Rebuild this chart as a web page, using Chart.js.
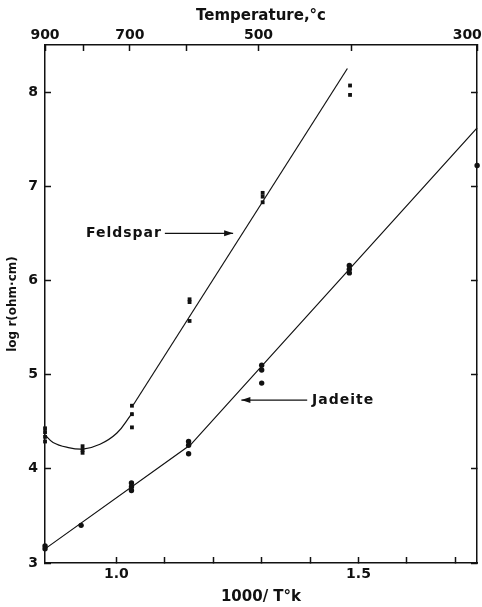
<!DOCTYPE html>
<html>
<head>
<meta charset="utf-8">
<script src="https://cdn.jsdelivr.net/npm/chart.js@4/dist/chart.umd.min.js"></script>
<style>
  html, body { margin: 0; padding: 0; background: #fff; }
</style>
</head>
<body>
<canvas id="resistChart" width="482" height="607"></canvas>
<script>
// 1000/T (K) range: 900 C to 300 C
const xMin = 1000 / (900 + 273.15);
const xMax = 1000 / (300 + 273.15);

const feldsparX = [0.8525, 0.8525, 0.8525, 0.8525, 0.930, 0.930, 0.930, 1.032, 1.032, 1.032, 1.151, 1.151, 1.151, 1.302, 1.302, 1.302, 1.4825, 1.4825];
const feldsparY = [4.43, 4.39, 4.34, 4.29, 4.24, 4.20, 4.17, 4.67, 4.58, 4.44, 5.80, 5.77, 5.57, 6.93, 6.89, 6.83, 8.07, 7.97];
const jadeiteX = [0.8525, 0.8525, 0.927, 1.031, 1.031, 1.031, 1.149, 1.149, 1.149, 1.300, 1.300, 1.300, 1.481, 1.481, 1.481, 1.745];
const jadeiteY = [3.18, 3.15, 3.40, 3.85, 3.81, 3.77, 4.29, 4.25, 4.16, 5.10, 5.05, 4.91, 6.16, 6.12, 6.08, 7.22];

// drawn fit lines
const feldsparCurveX = [0.8525, 0.869, 0.897, 0.931, 0.966, 1.001, 1.028, 1.033];
const feldsparCurveY = [4.36, 4.28, 4.23, 4.21, 4.26, 4.38, 4.56, 4.60];
const feldsparLineX = [1.035, 1.477];
const feldsparLineY = [4.68, 8.25];
const jadeiteLineX = [0.8525, 1.153, 1.745];
const jadeiteLineY = [3.15, 4.255, 7.62];

// ticks
const xTicks = [1.0, 1.1, 1.2, 1.3, 1.4, 1.5, 1.6, 1.7];
const xLabels = { '1.0': '1.0', '1.5': '1.5' };
const tempTicks = [900, 800, 700, 600, 500, 400, 300];
const tempLabels = { 900: '900', 700: '700', 500: '500', 300: '300    ' }; // last one padded so it stays inside the canvas
const yTicks = [3, 4, 5, 6, 7, 8];

const pts = (xs, ys) => xs.map((x, i) => ({ x: x, y: ys[i] }));

const tickFont = { family: 'DejaVu Sans', weight: 'bold', size: 14 };
const ink = '#111';

// arrow labels: text, text anchor, arrow from -> to (data coords)
const callouts = [
  { text: 'Feldspar', align: 'right', tx: 1.094, y: 6.50, from: 1.100, to: 1.241 },
  { text: 'Jadeite', align: 'left', tx: 1.404, y: 4.73, from: 1.394, to: 1.258 }
];

const calloutPlugin = {
  id: 'callouts',
  afterDatasetsDraw(chart) {
    const ctx = chart.ctx;
    const xs = chart.scales.x, ys = chart.scales.y;
    ctx.save();
    ctx.fillStyle = ink;
    ctx.strokeStyle = ink;
    ctx.lineWidth = 1.2;
    ctx.font = 'bold 14px "DejaVu Sans"';
    ctx.letterSpacing = '1px';
    callouts.forEach(c => {
      const y = ys.getPixelForValue(c.y);
      const x1 = xs.getPixelForValue(c.from);
      const x2 = xs.getPixelForValue(c.to);
      ctx.beginPath();
      ctx.moveTo(x1, y);
      ctx.lineTo(x2, y);
      ctx.stroke();
      const dir = x2 > x1 ? -1 : 1;
      ctx.beginPath();
      ctx.moveTo(x2, y);
      ctx.lineTo(x2 + dir * 9, y - 3);
      ctx.lineTo(x2 + dir * 9, y + 3);
      ctx.closePath();
      ctx.fill();
      ctx.textAlign = c.align;
      ctx.textBaseline = 'middle';
      ctx.fillText(c.text, xs.getPixelForValue(c.tx), y);
    });
    ctx.restore();
  }
};

const scatterSet = (data, style) => ({
  data: data,
  showLine: false,
  pointStyle: style,
  pointRadius: 2.7,
  backgroundColor: ink,
  borderColor: ink,
  borderWidth: 0,
  clip: false
});

const lineSet = (data, tension) => ({
  data: data,
  showLine: true,
  tension: tension,
  pointRadius: 0,
  borderColor: ink,
  borderWidth: 1.2,
  fill: false,
  clip: false
});

const axisGrid = { drawOnChartArea: false, tickLength: -6, tickColor: ink, tickWidth: 1.5 };
const axisBorder = { display: true, color: ink, width: 1.5 };
const noSidePad = s => { s.paddingLeft = 0; s.paddingRight = 0; };

new Chart(document.getElementById('resistChart').getContext('2d'), {
  type: 'scatter',
  data: {
    datasets: [
      scatterSet(pts(feldsparX, feldsparY), 'rect'),
      scatterSet(pts(jadeiteX, jadeiteY), 'circle'),
      lineSet(pts(feldsparCurveX, feldsparCurveY), 0.4),
      lineSet(pts(feldsparLineX, feldsparLineY), 0),
      lineSet(pts(jadeiteLineX, jadeiteLineY), 0)
    ]
  },
  options: {
    responsive: false,
    animation: false,
    devicePixelRatio: 1,
    layout: { padding: 0 },
    plugins: { legend: { display: false }, tooltip: { enabled: false } },
    scales: {
      x: {
        type: 'linear', position: 'bottom', min: xMin, max: xMax,
        afterBuildTicks: s => { s.ticks = xTicks.map(v => ({ value: v })); },
        afterFit: s => { s.height = 44; noSidePad(s); },
        ticks: {
          color: ink, font: tickFont, padding: 9, maxRotation: 0, autoSkip: false,
          callback: v => xLabels[v.toFixed(1)] || ''
        },
        grid: axisGrid, border: axisBorder,
        title: {
          display: true, text: '1000/ T°k', color: ink, align: 'center',
          font: { family: 'DejaVu Sans', weight: 'bold', size: 15 }, padding: { top: 0, bottom: 1 }
        }
      },
      x2: {
        type: 'linear', position: 'top', min: xMin, max: xMax,
        afterBuildTicks: s => { s.ticks = tempTicks.map(t => ({ value: 1000 / (t + 273.15) })); },
        afterFit: s => { s.height = 45; noSidePad(s); },
        ticks: {
          color: ink, font: tickFont, padding: 7, maxRotation: 0, autoSkip: false,
          callback: (v, i) => tempLabels[tempTicks[i]] || ''
        },
        grid: axisGrid, border: axisBorder,
        title: {
          display: true, text: 'Temperature,°c', color: ink,
          font: { family: 'DejaVu Sans', weight: 'bold', size: 15 }, padding: { top: 7, bottom: 0 }
        }
      },
      y: {
        type: 'linear', position: 'left', min: 3, max: 8.5,
        afterBuildTicks: s => { s.ticks = yTicks.map(v => ({ value: v })); },
        afterFit: s => { s.width = 45; },
        ticks: { color: ink, font: tickFont, padding: 13 },
        grid: axisGrid, border: axisBorder,
        title: {
          display: true, text: 'log r(ohm·cm)', color: ink,
          font: { family: 'DejaVu Sans', weight: 'bold', size: 12 }, padding: { top: 6, bottom: 0 }
        }
      },
      y2: {
        type: 'linear', position: 'right', min: 3, max: 8.5,
        afterBuildTicks: s => { s.ticks = yTicks.map(v => ({ value: v })); },
        afterFit: s => { s.width = 5; },
        ticks: { display: false },
        grid: axisGrid, border: axisBorder
      }
    }
  },
  plugins: [calloutPlugin]
});
</script>
</body>
</html>
